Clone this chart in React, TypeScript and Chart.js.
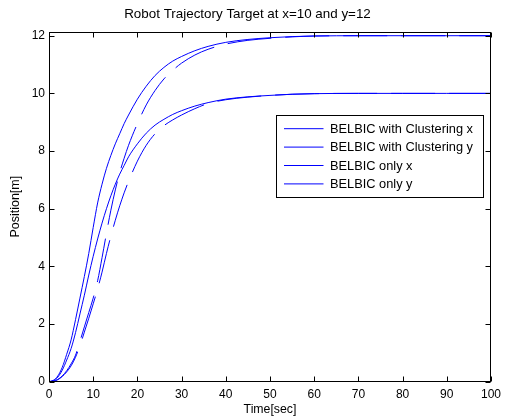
import React, { useEffect, useRef } from "react";
import { Chart, registerables } from "chart.js";

Chart.register(...registerables);

// ---- data ----
const timeSec = [0, 1, 2, 3, 4, 5, 6, 7, 8, 9, 10, 11, 12, 13, 14, 15, 16, 17, 18, 20, 22, 24, 26, 28, 30, 33, 36, 40, 45, 50, 55, 60, 70, 80, 90, 100];

const clusteringX = [0, 0.04, 0.16, 0.4, 0.75, 1.15, 1.7, 2.35, 3.0, 3.7, 4.35, 4.95, 5.5, 6.0, 6.45, 6.85, 7.2, 7.5, 7.8, 8.25, 8.62, 8.9, 9.1, 9.27, 9.4, 9.56, 9.68, 9.8, 9.88, 9.93, 9.97, 9.99, 10, 10, 10, 10];
const clusteringY = [0, 0.05, 0.2, 0.5, 0.95, 1.45, 2.15, 2.9, 3.65, 4.45, 5.35, 6.2, 6.85, 7.4, 7.85, 8.25, 8.6, 8.95, 9.25, 9.8, 10.25, 10.62, 10.9, 11.12, 11.28, 11.48, 11.63, 11.77, 11.87, 11.93, 11.97, 11.99, 12, 12, 12, 12];
const onlyX = [0, 0.02, 0.07, 0.18, 0.34, 0.55, 0.85, 1.25, 1.72, 2.2, 2.7, 3.22, 3.8, 4.45, 5.05, 5.6, 6.1, 6.55, 6.95, 7.65, 8.2, 8.6, 8.88, 9.08, 9.25, 9.47, 9.65, 9.78, 9.87, 9.93, 9.97, 9.99, 10, 10, 10, 10];
const onlyY = [0, 0.02, 0.08, 0.2, 0.38, 0.62, 0.92, 1.4, 1.9, 2.4, 2.9, 3.5, 4.3, 5.15, 5.95, 6.65, 7.25, 7.75, 8.2, 8.95, 9.6, 10.1, 10.5, 10.8, 11.05, 11.33, 11.53, 11.71, 11.84, 11.91, 11.96, 11.99, 12, 12, 12, 12];

const seriesLabels = ["BELBIC with Clustering x", "BELBIC with Clustering y", "BELBIC only x", "BELBIC only y"];
const xTicks = [0, 10, 20, 30, 40, 50, 60, 70, 80, 90, 100];
const yTicks = [0, 2, 4, 6, 8, 10, 12];
const titleText = "Robot Trajectory Target at x=10 and y=12";
const xTitle = "Time[sec]";
const yTitle = "Position[m]";

const FONT = "'Liberation Sans', Arial, Helvetica, sans-serif";

const toPoints = (ys: number[]) => timeSec.map((t, i) => ({ x: t, y: ys[i] }));

const boxTicksPlugin = {
  id: "boxTicks",
  afterDraw(chart: any) {
    const { ctx, chartArea, scales } = chart;
    const l = Math.round(chartArea.left) + 0.5;
    const r = Math.round(chartArea.right) - 0.5;
    const t = Math.round(chartArea.top) + 0.5;
    const b = Math.round(chartArea.bottom) - 0.5;
    const len = 5;
    ctx.save();
    ctx.strokeStyle = "#000";
    ctx.lineWidth = 1;
    ctx.setLineDash([]);
    ctx.strokeRect(l, t, r - l, b - t);
    ctx.beginPath();
    xTicks.forEach((v) => {
      const px = Math.round(scales.x.getPixelForValue(v)) + 0.5;
      ctx.moveTo(px, b);
      ctx.lineTo(px, b - len);
      ctx.moveTo(px, t);
      ctx.lineTo(px, t + len);
    });
    yTicks.forEach((v) => {
      const py = Math.round(scales.y.getPixelForValue(v)) + 0.5;
      ctx.moveTo(l, py);
      ctx.lineTo(l + len, py);
      ctx.moveTo(r, py);
      ctx.lineTo(r - len, py);
    });
    ctx.stroke();
    ctx.restore();
  },
};

const legendBoxPlugin = {
  id: "legendBox",
  afterDraw(chart: any) {
    const { ctx } = chart;
    const bx = 276.5, by = 115.5, bw = 207, bh = 82;
    ctx.save();
    ctx.fillStyle = "#fff";
    ctx.fillRect(bx, by, bw, bh);
    ctx.strokeStyle = "#000";
    ctx.lineWidth = 1;
    ctx.setLineDash([]);
    ctx.strokeRect(bx, by, bw, bh);
    ctx.font = "12.8px " + FONT;
    ctx.textBaseline = "middle";
    ctx.textAlign = "left";
    chart.data.datasets.forEach((ds: any, i: number) => {
      const y = 128.7 + 18.4 * i;
      ctx.beginPath();
      ctx.strokeStyle = ds.borderColor;
      ctx.lineWidth = ds.borderWidth;
      ctx.setLineDash(ds.borderDash || []);
      ctx.moveTo(284, y);
      ctx.lineTo(323.5, y);
      ctx.stroke();
      ctx.setLineDash([]);
      ctx.fillStyle = "#000";
      ctx.fillText(ds.label, 330, y + 0.5);
    });
    ctx.restore();
  },
};

export default function App() {
  const canvasRef = useRef<HTMLCanvasElement | null>(null);

  useEffect(() => {
    document.body.style.margin = "0";
    const canvas = canvasRef.current;
    if (!canvas) return;
    const seriesValues = [clusteringX, clusteringY, onlyX, onlyY];
    const dashes = [[], [], [44, 14], [44, 14]];
    const chart = new Chart(canvas, {
      type: "line",
      data: {
        datasets: seriesValues.map((vals, i) => ({
          label: seriesLabels[i],
          data: toPoints(vals),
          borderColor: "#0000ff",
          backgroundColor: "#0000ff",
          borderWidth: 1,
          borderDash: dashes[i],
          pointRadius: 0,
          fill: false,
          cubicInterpolationMode: "monotone" as const,
        })),
      },
      options: {
        responsive: false,
        animation: false,
        devicePixelRatio: 1,
        layout: { padding: { top: 0, right: 12, bottom: 0, left: 0 } },
        plugins: {
          legend: { display: false },
          tooltip: { enabled: false },
          title: {
            display: true,
            text: titleText,
            color: "#000",
            font: { family: FONT, size: 13.4, weight: "normal" },
            padding: { top: 6.5, bottom: 9.1 },
          },
        },
        scales: {
          x: {
            type: "linear",
            min: 0,
            max: 100,
            afterBuildTicks: (s: any) => {
              s.ticks = xTicks.map((v) => ({ value: v }));
            },
            afterFit: (s: any) => {
              s.height = 38.3;
            },
            grid: { display: false, drawTicks: false },
            border: { display: false },
            ticks: {
              color: "#000",
              font: { family: FONT, size: 12 },
              padding: 6,
              maxRotation: 0,
              autoSkip: false,
            },
            title: {
              display: true,
              text: xTitle,
              color: "#000",
              font: { family: FONT, size: 12.3 },
              padding: { top: 0, bottom: 3 },
            },
          },
          y: {
            type: "linear",
            min: 0,
            max: 12.14,
            afterBuildTicks: (s: any) => {
              s.ticks = yTicks.map((v) => ({ value: v }));
            },
            afterFit: (s: any) => {
              s.width = 49;
            },
            grid: { display: false, drawTicks: false },
            border: { display: false },
            ticks: {
              color: "#000",
              font: { family: FONT, size: 12 },
              padding: 4,
              autoSkip: false,
            },
            title: {
              display: true,
              text: yTitle,
              color: "#000",
              font: { family: FONT, size: 12.5 },
              padding: { top: 8, bottom: 0 },
            },
          },
        },
      },
      plugins: [boxTicksPlugin, legendBoxPlugin],
    });
    return () => chart.destroy();
  }, []);

  return (
    <div style={{ position: "absolute", left: 0, top: 0, width: 507, height: 420, background: "#fff" }}>
      <canvas ref={canvasRef} width={507} height={420} />
    </div>
  );
}
